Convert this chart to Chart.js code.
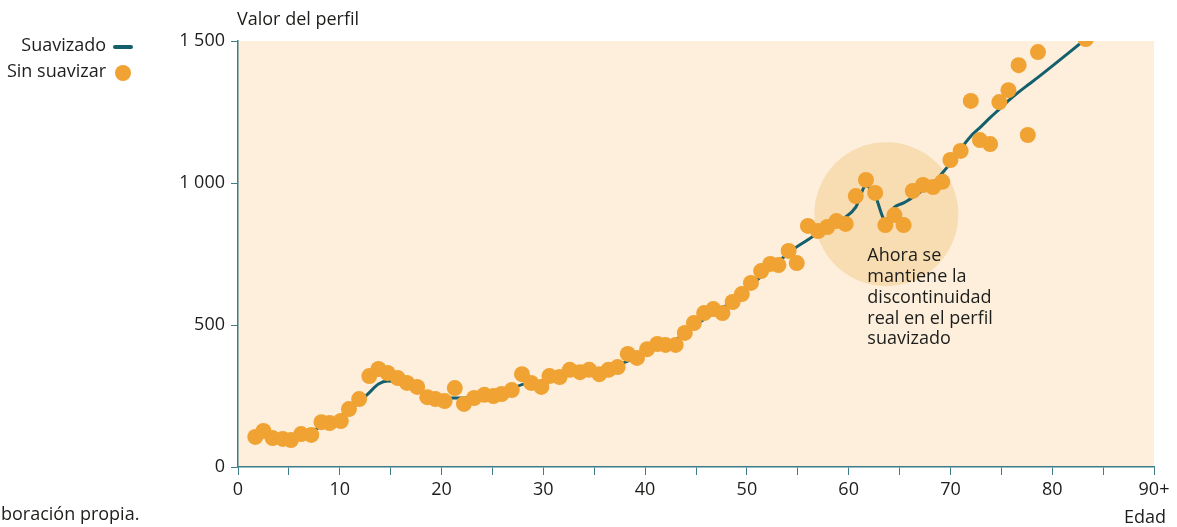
<!DOCTYPE html>
<html>
<head>
<meta charset="utf-8">
<script src="https://cdn.jsdelivr.net/npm/chart.js@4/dist/chart.umd.min.js"></script>
<style>
html,body{margin:0;padding:0;background:#fff;}
#wrap{width:1177px;height:527px;position:relative;}
</style>
</head>
<body>
<div id="wrap"><canvas id="c" width="1177" height="527"></canvas></div>
<script>
// ---- data ----
const ages = [1.7,2.5,3.4,4.4,5.2,6.2,7.2,8.2,9.0,10.1,10.9,11.9,12.9,13.8,14.7,15.7,16.6,17.6,18.6,19.4,20.3,21.3,22.2,23.2,24.2,25.1,25.9,26.9,27.9,28.8,29.8,30.6,31.6,32.6,33.6,34.5,35.5,36.4,37.3,38.3,39.2,40.2,41.2,42.0,43.0,43.9,44.8,45.8,46.7,47.6,48.6,49.5,50.4,51.4,52.3,53.1,54.1,54.9,56.0,57.0,57.9,58.8,59.7,60.7,61.7,62.6,63.6,64.5,65.4,66.3,67.3,68.3,69.2,70.0,71.0,72.0,72.9,73.9,74.8,75.7,76.7,77.6,78.6,83.3];
const rawValues = [106,127,102,99,95,116,113,158,155,162,204,239,320,345,331,313,296,282,246,239,232,278,222,243,254,250,257,271,327,296,282,320,317,342,334,342,327,342,352,398,384,415,433,430,430,472,507,542,556,542,581,609,648,690,715,711,761,718,849,831,845,866,856,954,1011,965,852,887,852,972,993,986,1004,1081,1113,1289,1151,1137,1285,1327,1415,1169,1461,1507];
const smoothValues = [108,108,107,106,106,112,125,143,160,180,200,228,262,292,303,300,290,275,260,250,245,243,243,248,252,258,264,276,290,298,303,312,320,330,335,340,345,352,360,373,388,405,420,432,448,470,495,520,540,560,585,610,640,670,700,725,752,775,800,825,845,862,880,915,990,955,870,915,930,950,975,1000,1035,1070,1120,1165,1195,1230,1260,1290,1320,1345,1372,1507];
const yTicks = [0,500,1000,1500];
const xTickLabels = {0:'0',10:'10',20:'20',30:'30',40:'40',50:'50',60:'60',70:'70',80:'80',90:'90+'};
const seriesNames = ['Suavizado','Sin suavizar'];
const highlight = {age:63.7, value:890};
const noteLines = ['Ahora se','mantiene la','discontinuidad','real en el perfil','suavizado'];
const yTitle = 'Valor del perfil';
const xTitle = 'Edad';
const source = 'Fuente: elaboración propia.';

const FONT = '"Open Sans"';
const FS = 18;
const TEXT = '#1d1d1b';
const TEAL = '#145f6d';
const ORANGE = '#f0a232';
const AXIS = '#3d7c89';

const smoothPts = ages.map((a,i)=>({x:a,y:smoothValues[i]}));
const rawPts = ages.map((a,i)=>({x:a,y:rawValues[i]}));

const deco = {
  id:'deco',
  beforeDraw(chart){
    const {ctx, chartArea:ca} = chart;
    ctx.save();
    ctx.fillStyle = '#fdefdc';
    ctx.fillRect(ca.left, ca.top, ca.right-ca.left, ca.bottom-ca.top);
    ctx.restore();
  },
  beforeDatasetsDraw(chart){
    const {ctx, scales:{x,y}} = chart;
    const cx = x.getPixelForValue(highlight.age), cy = y.getPixelForValue(highlight.value);
    ctx.save();
    ctx.fillStyle = '#f8dcb2';
    ctx.beginPath();
    ctx.arc(cx, cy, 72, 0, Math.PI*2);
    ctx.fill();
    ctx.restore();
  },
  afterDraw(chart){
    const {ctx, scales:{x,y}, chartArea:ca} = chart;
    ctx.save();
    ctx.fillStyle = TEXT;
    ctx.font = FS+'px '+FONT;
    ctx.textBaseline = 'middle';
    ctx.textAlign = 'left';
    ctx.fillText(yTitle, ca.left-1, 20);
    const cx = x.getPixelForValue(highlight.age);
    noteLines.forEach((t,i)=>ctx.fillText(t, cx-19, 256 + i*20.8));
    ctx.textAlign = 'right';
    ctx.fillText(xTitle, ca.right+12, 518);
    ctx.textAlign = 'left';
    const off = ctx.measureText('Fuente: ela').width;
    ctx.fillText(source, -off+1, 515);
    ctx.textAlign = 'right';
    ctx.fillText(seriesNames[0], 106, 46);
    ctx.fillText(seriesNames[1], 106, 72);
    ctx.strokeStyle = TEAL;
    ctx.lineWidth = 4;
    ctx.lineCap = 'round';
    ctx.beginPath(); ctx.moveTo(115,47); ctx.lineTo(131,47); ctx.stroke();
    ctx.fillStyle = ORANGE;
    ctx.beginPath(); ctx.arc(123,73,8,0,Math.PI*2); ctx.fill();
    ctx.restore();
  }
};

new Chart(document.getElementById('c'), {
  type:'scatter',
  data:{datasets:[
    {label:seriesNames[0], data:smoothPts, showLine:true, borderColor:TEAL, borderWidth:3, pointRadius:0, cubicInterpolationMode:'monotone', order:2},
    {label:seriesNames[1], data:rawPts, showLine:false, backgroundColor:ORANGE, borderWidth:0, pointRadius:8, pointHoverRadius:8, order:1}
  ]},
  options:{
    responsive:false, animation:false, devicePixelRatio:1,
    layout:{padding:{top:41,right:23,left:0,bottom:0}},
    plugins:{legend:{display:false}, tooltip:{enabled:false}},
    scales:{
      x:{type:'linear', min:0, max:90,
        afterBuildTicks(s){ s.ticks = []; for(let v=0; v<=90; v+=5) s.ticks.push({value:v}); },
        afterFit(s){ s.height = 60; },
        grid:{drawOnChartArea:false, drawTicks:true, tickLength:8, color:AXIS, lineWidth:1},
        border:{color:AXIS, width:1.5},
        ticks:{autoSkip:false, maxRotation:0, padding:4, color:TEXT, font:{family:'"Open Sans"', size:FS},
          callback:(v)=> xTickLabels[v] !== undefined ? xTickLabels[v] : ''}
      },
      y:{type:'linear', min:0, max:1500,
        afterBuildTicks(s){ s.ticks = yTicks.map(v=>({value:v})); },
        afterFit(s){ s.width = 238; },
        grid:{drawOnChartArea:false, drawTicks:true, tickLength:7, color:AXIS, lineWidth:1},
        border:{color:AXIS, width:1.5},
        ticks:{padding:6, color:TEXT, font:{family:'"Open Sans"', size:FS},
          callback:(v)=> v>=1000 ? String(v).replace(/(\d)(\d{3})$/,'$1 $2') : String(v)}
      }
    }
  },
  plugins:[deco]
});
</script>
</body>
</html>
